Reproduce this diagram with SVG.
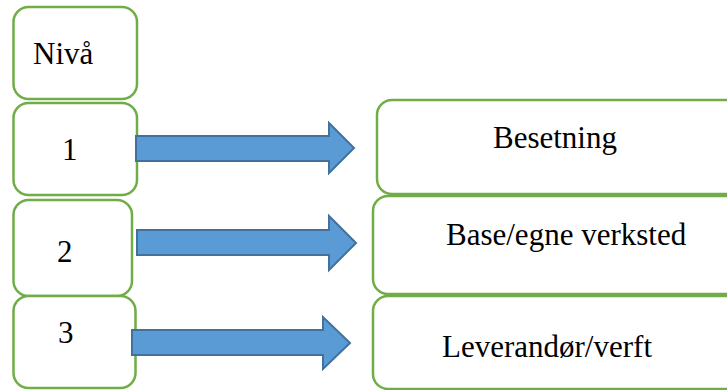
<svg xmlns="http://www.w3.org/2000/svg" width="727" height="390" viewBox="0 0 727 390">
<style>
.box{fill:#fff;stroke:#70AD47;stroke-width:2.5}
.arrow{fill:#5B9BD5;stroke:#41719C;stroke-width:2;stroke-linejoin:miter}
.t{font-family:"Liberation Serif","Times New Roman",serif;font-size:31px;fill:#000}
</style>
<rect width="727" height="390" fill="#fff"/>
<g id="node-niva"><rect class="box" x="13.5" y="7" width="123.5" height="92" rx="15"/><text class="t" x="33" y="64">Nivå</text></g>
<g id="node-1"><rect class="box" x="13.5" y="103" width="123.5" height="92" rx="15"/><text class="t" x="62" y="160">1</text></g>
<g id="node-2"><rect class="box" x="13.5" y="200" width="118.5" height="96" rx="15"/><text class="t" x="57" y="262">2</text></g>
<g id="node-3"><rect class="box" x="13.5" y="296" width="122" height="92" rx="15"/><text class="t" x="58" y="343">3</text></g>
<g id="node-besetning"><rect class="box" x="377" y="100" width="365" height="94" rx="15"/><text class="t" x="493" y="148">Besetning</text></g>
<g id="node-base"><rect class="box" x="373" y="196" width="369" height="98" rx="15"/><text class="t" x="446" y="245">Base/egne verksted</text></g>
<g id="node-leverandor"><rect class="box" x="373" y="296" width="369" height="93" rx="15"/><text class="t" x="442" y="357">Leverandør/verft</text></g>
<g id="connectors">
<polygon class="arrow" points="136,136 329,136 329,123 354,148 329,173 329,161 136,161"/>
<polygon class="arrow" points="137,230 329,230 329,216 356,243 329,270 329,255 137,255"/>
<polygon class="arrow" points="132,330 323,330 323,317 350,343 323,369 323,355 132,355"/>
</g>
</svg>
